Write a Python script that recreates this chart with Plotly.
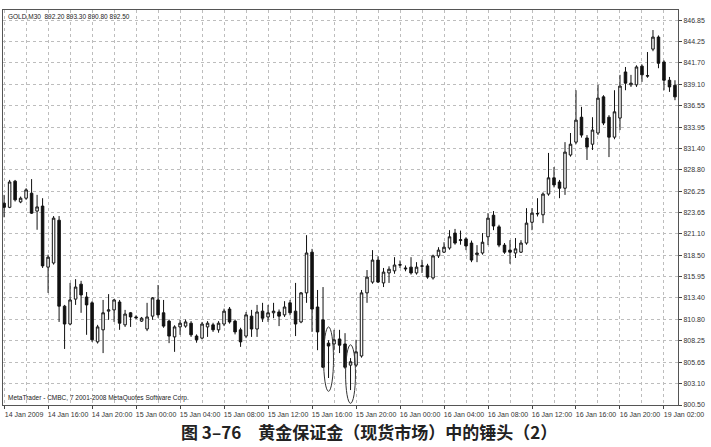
import plotly.graph_objects as go

# ---------------- data ----------------
opens = [824.8, 824.3, 827.45, 824.95, 825.4, 826.0, 823.85, 824.45, 817.1, 817.6,
         822.75, 812.4, 810.25, 813.25, 815.05, 813.5, 812.8, 808.1, 809.55, 811.8,
         811.95, 812.9, 810.15, 811.6, 811.1, 810.6, 809.65, 811.2, 813.15, 811.6,
         810.6, 808.7, 809.9, 810.0, 810.35, 808.8, 808.55, 809.9, 810.15, 809.55,
         810.25, 812.05, 810.6, 809.55, 808.8, 811.2, 809.65, 811.8, 811.1, 811.6,
         811.7, 811.35, 812.8, 811.8, 810.5, 814.0, 818.9, 812.3, 810.75, 807.95,
         807.85, 808.45, 807.85, 805.3, 805.3, 806.4, 814.0, 815.3, 817.95, 815.2,
         816.4, 816.65, 817.4, 817.0, 817.1, 816.4, 817.2, 817.25, 815.8, 818.45,
         818.9, 819.4, 821.2, 820.3, 820.5, 820.0, 818.6, 818.8, 820.75, 823.35,
         821.95, 819.75, 819.15, 818.8, 818.9, 820.0, 822.5, 823.5, 823.4, 825.9,
         827.85, 827.35, 826.6, 830.6, 832.15, 835.15, 832.65, 831.9, 833.25, 837.6,
         835.15, 832.75, 835.05, 840.6, 839.05, 839.05, 841.3, 840.1, 843.35, 844.8,
         841.8, 839.6, 839.0]
highs = [825.8, 827.6, 827.6, 825.6, 826.6, 827.7, 825.8, 825.4, 818.6, 823.25,
         823.25, 812.55, 815.2, 815.65, 815.45, 814.1, 813.0, 810.15, 813.15, 813.85,
         813.25, 813.15, 811.95, 811.7, 811.3, 811.1, 812.8, 813.5, 814.95, 813.15,
         810.8, 810.1, 810.75, 810.8, 810.6, 809.0, 810.5, 810.6, 810.4, 810.6,
         812.1, 812.3, 810.8, 809.8, 811.7, 811.95, 812.55, 812.8, 812.55, 812.8,
         812.0, 813.0, 813.15, 815.2, 814.1, 820.95, 819.3, 814.35, 814.7, 808.3,
         809.55, 809.55, 809.15, 806.15, 808.35, 814.35, 816.75, 819.15, 818.4, 817.0,
         817.2, 818.3, 817.9, 817.3, 818.3, 817.7, 818.0, 817.5, 818.6, 819.5,
         820.1, 821.55, 821.7, 821.5, 820.7, 820.3, 819.75, 821.2, 823.6, 823.85,
         822.2, 820.0, 820.35, 820.6, 820.35, 824.2, 824.2, 825.4, 826.1, 830.85,
         829.15, 827.6, 832.15, 833.25, 838.4, 836.4, 833.0, 835.15, 839.05, 837.8,
         835.4, 838.4, 840.25, 841.2, 840.25, 841.4, 841.5, 843.0, 845.65, 845.0,
         842.0, 840.0, 839.6]
lows = [823.1, 824.2, 825.0, 824.8, 825.2, 823.5, 821.6, 817.0, 814.0, 817.4,
        810.5, 807.25, 810.1, 812.55, 811.6, 808.95, 808.1, 807.9, 806.75, 810.75,
        810.5, 809.55, 809.9, 809.9, 810.9, 810.5, 809.4, 810.75, 811.0, 809.8,
        807.95, 806.9, 808.95, 809.8, 808.7, 808.0, 808.4, 808.7, 809.3, 809.2,
        810.0, 810.3, 809.0, 807.5, 808.55, 808.7, 808.7, 810.5, 810.5, 810.95,
        810.0, 811.1, 811.3, 808.8, 810.35, 812.8, 809.3, 807.1, 804.95, 803.75,
        807.1, 806.75, 804.85, 802.3, 805.1, 806.2, 812.8, 815.1, 815.2, 814.7,
        815.2, 816.3, 817.0, 816.6, 816.2, 816.2, 816.4, 815.7, 815.6, 818.2,
        818.8, 819.2, 819.8, 819.8, 819.15, 817.7, 817.7, 818.6, 819.75, 821.55,
        819.5, 818.7, 817.5, 818.2, 818.8, 819.8, 821.55, 823.2, 822.4, 825.7,
        826.7, 825.4, 825.8, 830.4, 831.9, 832.7, 830.0, 831.2, 833.0, 834.2,
        830.35, 832.5, 833.6, 838.4, 838.8, 838.8, 839.4, 839.9, 843.1, 841.05,
        838.4, 838.2, 837.2]
closes = [824.3, 827.35, 825.2, 825.4, 826.4, 823.6, 824.35, 817.25, 818.3, 823.0,
          812.4, 810.25, 813.15, 814.7, 813.75, 812.55, 808.35, 809.9, 811.6, 811.95,
          813.15, 810.35, 811.45, 811.1, 811.0, 810.95, 811.1, 813.4, 811.35, 810.0,
          808.8, 809.9, 810.35, 810.5, 808.95, 808.35, 810.25, 810.35, 809.55, 810.35,
          811.8, 810.5, 809.3, 808.1, 811.35, 809.65, 811.7, 810.95, 811.6, 811.8,
          811.2, 812.3, 811.6, 810.25, 814.0, 818.8, 812.05, 809.3, 805.05, 807.6,
          808.35, 807.7, 805.05, 805.7, 806.9, 814.0, 815.9, 817.95, 815.3, 816.5,
          816.85, 817.35, 817.35, 816.9, 816.4, 817.1, 817.25, 815.9, 818.45, 819.15,
          819.5, 820.75, 820.0, 820.4, 819.65, 817.95, 818.8, 820.1, 823.0, 822.05,
          819.75, 818.9, 818.9, 819.3, 820.0, 822.4, 823.6, 823.55, 825.9, 827.85,
          827.0, 826.6, 830.95, 831.9, 834.8, 833.0, 831.55, 833.6, 837.45, 834.45,
          832.75, 835.8, 838.9, 839.25, 839.25, 841.2, 840.25, 840.15, 844.8, 841.65,
          839.6, 838.8, 837.6]

time_labels = ["14 Jan 2009", "14 Jan 16:00", "14 Jan 20:00", "15 Jan 00:00",
               "15 Jan 04:00", "15 Jan 08:00", "15 Jan 12:00", "15 Jan 16:00",
               "15 Jan 20:00", "16 Jan 00:00", "16 Jan 04:00", "16 Jan 08:00",
               "16 Jan 12:00", "16 Jan 16:00", "16 Jan 20:00", "19 Jan 02:00"]
bars_per_label = 8
price_ticks = [800.50, 803.10, 805.65, 808.25, 810.80, 813.40, 815.95, 818.50,
               821.10, 823.65, 826.25, 828.80, 831.40, 833.95, 836.55, 839.10,
               841.70, 844.25, 846.85]
price_labels = ["800.50", "803.10", "805.65", "808.25", "810.80", "813.40", "815.95",
                "818.50", "821.10", "823.65", "826.25", "828.80", "831.40", "833.95",
                "836.55", "839.10", "841.70", "844.25", "846.85"]
hammer_bars = [59, 63]

header_text = "GOLD,M30  892.20 893.30 890.80 892.50"
footer_text = "MetaTrader - CMBC, 7 2001-2008 MetaQuotes Software Corp."
caption_text = "图 3–76　黄金保证金（现货市场）中的锤头（2）"

# ---------------- figure ----------------
bars = list(range(len(opens)))
tick_positions = [k * bars_per_label for k in range(len(time_labels))]

fig = go.Figure(go.Candlestick(
    x=bars, open=opens, high=highs, low=lows, close=closes,
    increasing=dict(line=dict(color="#111111", width=1), fillcolor="#ffffff"),
    decreasing=dict(line=dict(color="#111111", width=1), fillcolor="#111111"),
    whiskerwidth=0, showlegend=False, hoverinfo="skip",
))

# ellipses drawn round the two hammers
for b in hammer_bars:
    fig.add_shape(type="circle", xref="x", yref="y",
                  x0=b - 0.9, x1=b + 0.9,
                  y0=lows[b] - 1.6, y1=highs[b] + 1.6,
                  line=dict(color="#333333", width=1))

grid_col = "#bdbdbd"
lbl_font = dict(family="Liberation Sans, Arial, sans-serif", size=7, color="#333333")

fig.update_layout(
    width=711, height=447,
    margin=dict(l=3, r=33, t=10, b=42),
    paper_bgcolor="#ffffff", plot_bgcolor="#ffffff",
    boxgap=0.35,
    xaxis=dict(
        range=[-0.2, len(opens) - 0.45],
        rangeslider=dict(visible=False),
        tickmode="array", tickvals=tick_positions, ticktext=time_labels,
        ticks="outside", ticklen=3, tickcolor="#444444",
        tickfont=lbl_font, ticklabelshift=20, ticklabelstandoff=0,
        showgrid=True, gridcolor=grid_col, griddash="dot", gridwidth=1,
        minor=dict(tickmode="linear", tick0=0, dtick=bars_per_label / 2,
                   showgrid=True, gridcolor=grid_col, griddash="dot", gridwidth=1,
                   ticks=""),
        showline=True, linecolor="#555555", linewidth=1, mirror=True,
        zeroline=False, fixedrange=True,
    ),
    yaxis=dict(
        side="right",
        range=[800.5, 848.06],
        tickmode="array", tickvals=price_ticks, ticktext=price_labels,
        ticks="outside", ticklen=3, tickcolor="#444444",
        tickfont=lbl_font, ticklabelstandoff=0,
        showgrid=True, gridcolor=grid_col, griddash="dot", gridwidth=1,
        showline=True, linecolor="#555555", linewidth=1, mirror=True,
        zeroline=False, fixedrange=True,
    ),
)

fig.add_annotation(xref="paper", yref="paper", x=0.004, y=0.997,
                   xanchor="left", yanchor="top", showarrow=False,
                   text=header_text, font=dict(family="Liberation Sans, Arial", size=6.5, color="#222222"))
fig.add_annotation(xref="paper", yref="paper", x=0.004, y=0.003,
                   xanchor="left", yanchor="bottom", showarrow=False,
                   text=footer_text, font=dict(family="Liberation Sans, Arial", size=6.5, color="#222222"))
fig.add_annotation(xref="paper", yref="paper", x=0.542, y=-0.066,
                   xanchor="center", yanchor="middle", showarrow=False,
                   text="<b>" + caption_text + "</b>",
                   font=dict(family="Noto Sans CJK SC, sans-serif", size=17, color="#222222"))

fig.write_html("out.html", config={"displayModeBar": False},
               post_script="document.body.style.margin='0';")
